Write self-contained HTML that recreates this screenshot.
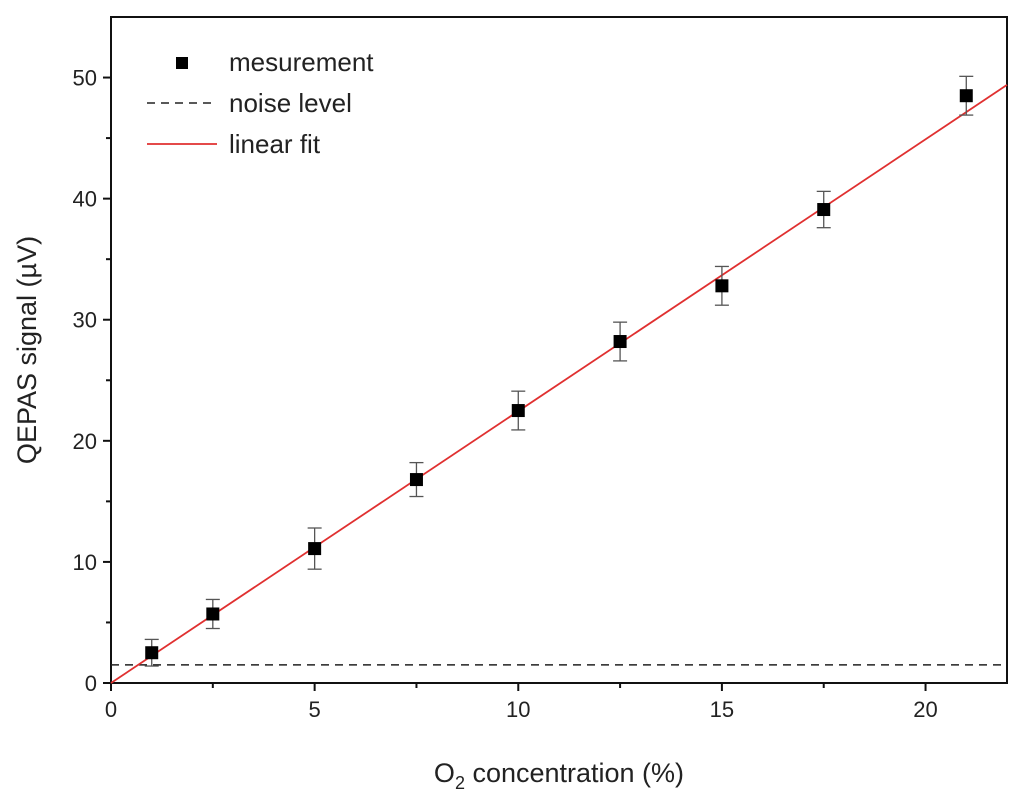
<!DOCTYPE html>
<html><head><meta charset="utf-8"><style>
body{margin:0;background:#fff;}
svg{display:block;font-family:"Liberation Sans",sans-serif;}
</style></head><body>
<svg id="chart" width="1024" height="799" viewBox="0 0 1024 799"></svg>
<script>
const xs=[1,2.5,5,7.5,10,12.5,15,17.5,21];
const ys=[2.5,5.7,11.1,16.8,22.5,28.2,32.8,39.1,48.5];
const errs=[1.1,1.2,1.7,1.4,1.6,1.6,1.6,1.5,1.6];
const xTicks=[0,5,10,15,20];
const yTicks=[0,10,20,30,40,50];
const fitSlope=2.245, fitIntercept=0;
const noiseLevel=1.5;
const L=111,R=1007,T=17,B=683,xMax=22,yMax=55;
const X=v=>L+v/xMax*(R-L), Y=v=>B-v/yMax*(B-T);
const svg=document.getElementById('chart');const NS='http://www.w3.org/2000/svg';
function mk(t,a,p){const e=document.createElementNS(NS,t);for(const k in a)e.setAttribute(k,a[k]);(p||svg).appendChild(e);return e;}
let e;
e=mk('rect',{x:L,y:T,width:R-L,height:B-T,fill:'none',stroke:'#111','stroke-width':2});


xTicks.forEach(v=>{e=mk('line',{x1:X(v),x2:X(v),y1:B,y2:B+8,stroke:'#111','stroke-width':2});


e=mk('text',{x:X(v),y:B+34,'font-size':22,'text-anchor':'middle',fill:'#222'});e.textContent=v;

});
xTicks.slice(0,-1).forEach(v=>{e=mk('line',{x1:X(v+2.5),x2:X(v+2.5),y1:B,y2:B+5,stroke:'#111','stroke-width':2});

});
yTicks.forEach(v=>{e=mk('line',{x1:L-8,x2:L,y1:Y(v),y2:Y(v),stroke:'#111','stroke-width':2});


e=mk('text',{x:L-14,y:Y(v)+8,'font-size':22,'text-anchor':'end',fill:'#222'});e.textContent=v;


if(v<50){e=mk('line',{x1:L-5,x2:L,y1:Y(v+5),y2:Y(v+5),stroke:'#111','stroke-width':2});

}});
e=mk('line',{x1:L,x2:R,y1:Y(noiseLevel),y2:Y(noiseLevel),stroke:'#222','stroke-width':1.5,'stroke-dasharray':'8,6'});


e=mk('line',{x1:X(0),y1:Y(fitIntercept),x2:X(xMax),y2:Y(fitIntercept+fitSlope*xMax),stroke:'#e03030','stroke-width':1.8});


xs.forEach((x,i)=>{const cx=X(x),cy=Y(ys[i]),t=Y(ys[i]+errs[i]),b=Y(ys[i]-errs[i]);
const g=mk('g',{stroke:'#555','stroke-width':1.3});


mk('line',{x1:cx,x2:cx,y1:t,y2:b},g);mk('line',{x1:cx-7,x2:cx+7,y1:t,y2:t},g);mk('line',{x1:cx-7,x2:cx+7,y1:b,y2:b},g);
e=mk('rect',{x:cx-6.5,y:cy-6.5,width:13,height:13,fill:'#000'});

});
// legend
e=mk('rect',{x:176,y:57,width:12,height:12,fill:'#000'});


e=mk('line',{x1:147,x2:217,y1:103,y2:103,stroke:'#222','stroke-width':1.5,'stroke-dasharray':'8,6'});


e=mk('line',{x1:147,x2:217,y1:144,y2:144,stroke:'#e03030','stroke-width':1.8});


[['mesurement',71],['noise level',112],['linear fit',153]].forEach(([s,y])=>{e=mk('text',{x:229,y:y,'font-size':26,fill:'#222'});e.textContent=s;

});
e=mk('text',{x:559,y:782,'font-size':27,'text-anchor':'middle',fill:'#222'});
e.innerHTML='O<tspan font-size="18" dy="7">2</tspan><tspan dy="-7"> concentration (%)</tspan>';


e=mk('text',{x:0,y:0,'font-size':27,'text-anchor':'middle',fill:'#222',transform:'translate(36,350) rotate(-90)'});
e.textContent='QEPAS signal (µV)';


</script>
</body></html>
